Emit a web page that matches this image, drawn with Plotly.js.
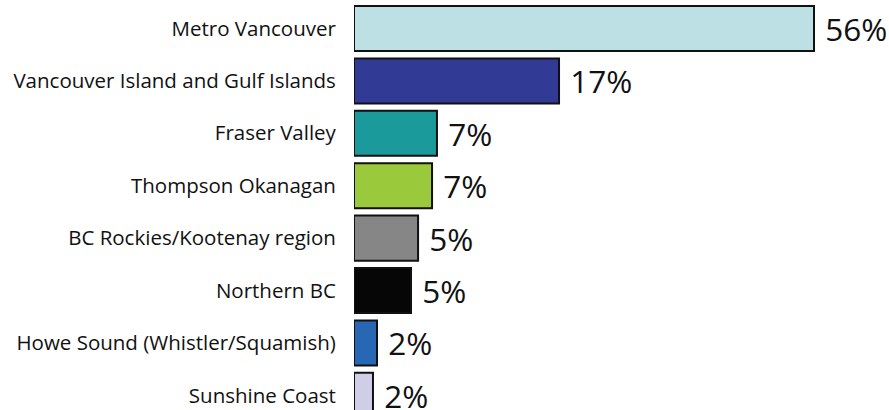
<!DOCTYPE html>
<html><head><meta charset="utf-8">
<script src="https://cdn.plot.ly/plotly-3.0.1.min.js"></script>
<style>html,body{margin:0;padding:0;background:#fff;}#chart{width:889px;height:410px;}</style>
</head><body><div id="chart"></div>
<script>
const regions = ["Metro Vancouver","Vancouver Island and Gulf Islands","Fraser Valley","Thompson Okanagan","BC Rockies/Kootenay region","Northern BC","Howe Sound (Whistler/Squamish)","Sunshine Coast"];
// bar lengths as drawn in the picture (scaled to the 56% bar)
const barLengths = [56, 24.96, 10.1, 9.5, 7.8, 6.94, 2.8, 2.31];
const pctLabels = ["56%","17%","7%","7%","5%","5%","2%","2%"];
const barColors = ["#bde0e4","#313a95","#1a9a9a","#9bc93c","#868686","#060606","#2867b3","#cfcde8"];

const trace = {
  type: 'bar', orientation: 'h',
  y: regions, x: barLengths,
  text: pctLabels.map(t => ' ' + t),
  textposition: 'outside', cliponaxis: false,
  textfont: {family: '"Open Sans", sans-serif', size: 31.5, color: '#111'},
  marker: {color: barColors, line: {color: '#111', width: 2}},
  width: 0.86, hoverinfo: 'none'
};
const layout = {
  width: 889, height: 410,
  margin: {l: 354, r: 0, t: 0, b: 0},
  paper_bgcolor: '#fff', plot_bgcolor: '#fff',
  showlegend: false,
  xaxis: {range: [0, 65.13], visible: false, fixedrange: true},
  yaxis: {type: 'category', range: [7.28, -0.544], showgrid: false, zeroline: false, showline: false,
          ticks: 'outside', ticklen: 13, tickcolor: 'rgba(0,0,0,0)',
          tickfont: {family: '"Open Sans", sans-serif', size: 20.5, color: '#111'}}
};
Plotly.newPlot('chart', [trace], layout, {displayModeBar: false, staticPlot: true});
</script></body></html>
